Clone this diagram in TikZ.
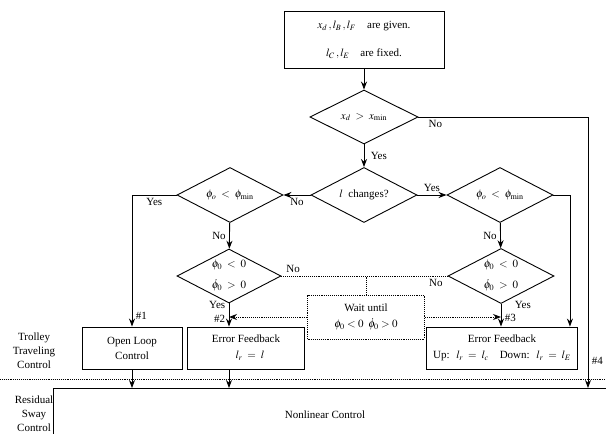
\documentclass[tikz,border=0pt]{standalone}
\usepackage{mathptmx}
\usepackage{fontspec}
\setmainfont{Liberation Serif}
\usetikzlibrary{shapes.geometric,arrows.meta}

\begin{document}
\begin{tikzpicture}[x=1pt, y=-1pt, line width=0.9pt,
    font=\fontsize{11}{13}\selectfont,
    >={Stealth[length=8pt,width=6pt]},
    decide/.style={diamond, draw, aspect=2, inner sep=0pt, minimum width=106pt, minimum height=55pt, align=center},
    block/.style={rectangle, draw, minimum height=42pt, align=center},
    waitbox/.style={rectangle, draw, densely dotted, minimum width=117pt, minimum height=44pt, align=center},
    side/.style={align=center}]
  \useasboundingbox (0,0) rectangle (606,434);

  % decisions
  \node[rectangle, draw, minimum width=160pt, minimum height=57pt, align=center] (given) at (364,40)
    {$x_d\,,l_B\,,l_F$\quad are given.\\[15pt]$l_C\,,l_E$\quad are fixed.};
  \node[decide, minimum width=108pt, minimum height=54pt] (dx) at (364,117) {$x_d\;>\;x_{\min}$};
  \node[decide] (dl) at (364,195) {$l$\enspace changes?};
  \node[decide] (dmin1) at (230,195) {$\phi_o\;<\;\phi_{\min}$};
  \node[decide] (dmin2) at (500,195) {$\phi_o\;<\;\phi_{\min}$};
  \node[decide, minimum width=104pt, minimum height=54pt] (dsign1) at (229,276)
    {$\phi_0\;<\;0$\\[8pt]$\dot{\phi}_0\;>\;0$};
  \node[decide] (dsign2) at (501,276)
    {$\phi_0\;<\;0$\\[8pt]$\dot{\phi}_0\;>\;0$};
  \node[waitbox] (wait) at (366,317) {Wait until\\[3pt]$\phi_0<0\;\;\dot{\phi}_0>0$};

  % controllers
  \node[block, minimum width=100pt] (open) at (132,348) {Open Loop\\[2pt]Control};
  \node[block, minimum width=117pt] (err1) at (246,348) {Error Feedback\\[3pt]\hspace{8pt}$l_r\;=\;l$};
  \node[block, minimum width=151pt] (err2) at (502,348)
    {Error Feedback\\[3pt]Up:\; $l_r\;=\;l_c$\quad Down:\; $l_r\;=\;l_E$};
  \node (nonlin) at (325,415) {Nonlinear Control};
  \node[side] (trolley) at (34,351) {Trolley\\[1pt]Traveling\\[1pt]Control};
  \node[side] (residual) at (34,414) {Residual\\[1pt]Sway\\[1pt]Control};

  \coordinate (nltop) at (53,388);
  \coordinate (nl4) at (588,388);
  \coordinate (sepL) at (0,379);
  \coordinate (sepR) at (606,379);

  % flow
  \draw[->] (given) -- (dx);
  \draw[->] (dx) -- node[right=3pt] {Yes} (dl);
  \draw[->] (dx.east) -| node[pos=0.05, below] {No} node[pos=0.95, right] {\#4} (nl4);
  \draw[->] (dl.west) -- node[below] {No} (dmin1.east);
  \draw[->] (dl.east) -- node[above] {Yes} (dmin2.west);
  \draw[->] (dmin1.west) -| node[pos=0.25, below] {Yes} node[pos=0.96, right] {\#1} (open.north);
  \draw[->] (dmin1) -- node[left] {No} (dsign1);
  \draw[->] (dmin2) -- node[left] {No} (dsign2);
  \draw[->] (dmin2.east) -| ([xshift=-8pt]err2.north east);
  \draw[->] (dsign1.south) -- node[pos=0.05, left] {Yes} node[pos=0.65, left] {\#2} (dsign1.south |- err1.north);
  \draw[->] (dsign2.south) -- node[pos=0.05, right=10pt] {Yes} node[pos=0.6, right] {\#3} (dsign2.south |- err2.north);

  % waiting branch
  \draw[densely dotted] (dsign1.east) -- node[pos=0.07, above] {No} node[pos=0.93, below] {No} (dsign2.west);
  \draw[densely dotted] (wait.north) -- (wait.north |- dsign1.east);
  \draw[densely dotted, ->] (wait.west) -- (dsign1.south |- wait.west);
  \draw[densely dotted, ->] (wait.east) -- (dsign2.south |- wait.east);

  % to residual sway control
  \draw[densely dotted] (sepL) -- (sepR);
  \draw[->] (open.south) -- (open.south |- nltop);
  \draw[->] (dsign1.south |- err1.south) -- (dsign1.south |- nltop);
  \draw (nltop |- 0,434) -- (nltop) -- (606,388);
\end{tikzpicture}
\end{document}
